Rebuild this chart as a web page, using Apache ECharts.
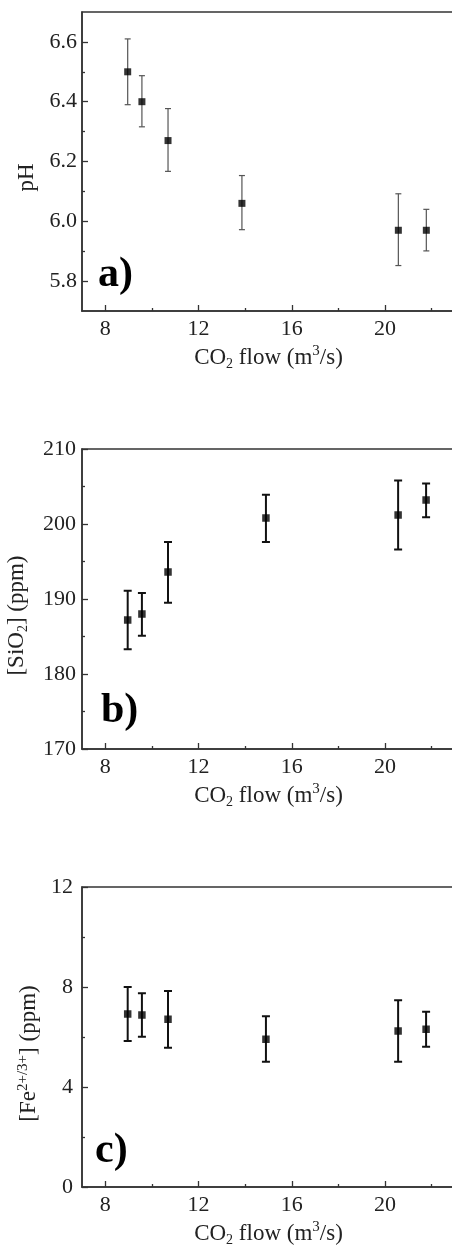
<!DOCTYPE html>
<html>
<head>
<meta charset="utf-8">
<script src="https://cdn.jsdelivr.net/npm/echarts@6/dist/echarts.min.js"></script>
<style>
html,body{margin:0;padding:0;background:#fff;}
#chart{width:452px;height:1245px;}
</style>
</head>
<body>
<div id="chart"></div>
<script>
// ---- data ----
const flowA = [8.96, 9.57, 10.69, 13.86, 20.57, 21.77];
const pH = [6.50, 6.40, 6.27, 6.06, 5.97, 5.97];
const pHLow = [6.39, 6.316, 6.167, 5.972, 5.852, 5.901];
const pHHigh = [6.61, 6.487, 6.377, 6.153, 6.092, 6.04];

const flowBC = [8.96, 9.57, 10.69, 14.89, 20.56, 21.76];
const sio2 = [187.2, 188.0, 193.6, 200.8, 201.2, 203.2];
const sio2Low = [183.3, 185.1, 189.5, 197.6, 196.6, 200.9];
const sio2High = [191.1, 190.8, 197.6, 203.9, 205.8, 205.4];

const fe = [6.92, 6.88, 6.71, 5.91, 6.24, 6.31];
const feLow = [5.84, 6.01, 5.57, 5.01, 5.01, 5.61];
const feHigh = [8.0, 7.75, 7.84, 6.83, 7.47, 7.01];

// ticks
const xMajor = [8, 12, 16, 20];
const xMinor = [10, 14, 18, 22];
const pHMajor = [5.8, 6.0, 6.2, 6.4, 6.6];
const pHMinor = [5.9, 6.1, 6.3, 6.5];
const sioMajor = [170, 180, 190, 200, 210];
const sioMinor = [175, 185, 195, 205];
const feMajor = [0, 4, 8, 12];
const feMinor = [2, 6, 10];
const panelLabels = ['a)', 'b)', 'c)'];

// ---- chart ----
const FONT = 'Liberation Serif';
const AX = '#333';
const TXT = '#222';
const TICKFS = 22;
const NA = 3; // axes per dimension per grid
const chart = echarts.init(document.getElementById('chart'), null, {renderer: 'canvas'});

const grids = [
  {left: 82, top: 12, width: 373, height: 299},
  {left: 82, top: 449, width: 373, height: 300},
  {left: 82, top: 887, width: 373, height: 300}
];

const richName = {
  a: {fontSize: 23, fontFamily: FONT, color: TXT, lineHeight: 27},
  s: {fontSize: 14, fontFamily: FONT, color: TXT, verticalAlign: 'bottom', lineHeight: 14},
  p: {fontSize: 15, fontFamily: FONT, color: TXT, verticalAlign: 'top', lineHeight: 15}
};
const xName = '{a|CO}{s|2}{a| flow (m}{p|3}{a|/s)}';

function tickAxis(base, vals, len) {
  return Object.assign({}, base, {
    axisLine: {show: false, onZero: false},
    axisTick: {show: true, inside: true, length: len, customValues: vals, lineStyle: {color: AX, width: 1.3}},
    axisLabel: {show: false},
    splitLine: {show: false}
  });
}

function xAxes(i) {
  const base = {gridIndex: i, type: 'value', min: 7, max: 23, position: 'bottom', offset: 0};
  return [Object.assign({}, base, {
    axisLine: {show: true, onZero: false, lineStyle: {color: AX, width: 1.5}},
    axisTick: {show: false},
    axisLabel: {customValues: xMajor, margin: 7, fontSize: TICKFS, color: TXT, fontFamily: FONT},
    splitLine: {show: false},
    name: xName, nameLocation: 'middle', nameGap: 33,
    nameTextStyle: {rich: richName}
  }), tickAxis(base, xMajor, 6), tickAxis(base, xMinor, 3)];
}

function yAxes(i, min, max, major, minor, name, gap, fmt, margin, shift) {
  const base = {gridIndex: i, type: 'value', min: min, max: max, position: 'left', offset: 0};
  return [Object.assign({}, base, {
    axisLine: {show: true, onZero: false, lineStyle: {color: AX, width: 1.5}},
    axisTick: {show: false},
    axisLabel: {customValues: major, margin: margin, fontSize: TICKFS, color: TXT, fontFamily: FONT, formatter: fmt},
    splitLine: {show: false},
    name: name, nameLocation: 'middle', nameGap: gap, nameRotate: 90,
    nameTextStyle: {rich: richName, padding: [0, shift, 0, 0]}
  }), tickAxis(base, major, 6), tickAxis(base, minor, 3)];
}

function errSeries(i, xs, lo, hi, color, lw, capHalf) {
  return {
    type: 'custom', xAxisIndex: NA * i, yAxisIndex: NA * i,
    data: xs.map((x, k) => [x, lo[k], hi[k]]),
    encode: {x: 0, y: [1, 2]},
    z: 2,
    silent: true,
    renderItem: function (params, api) {
      const x = api.value(0);
      const a = api.coord([x, api.value(1)]);
      const b = api.coord([x, api.value(2)]);
      const st = {stroke: color, lineWidth: lw, fill: null};
      return {
        type: 'group',
        children: [
          {type: 'line', shape: {x1: a[0], y1: a[1], x2: b[0], y2: b[1]}, style: st},
          {type: 'line', shape: {x1: a[0] - capHalf, y1: a[1], x2: a[0] + capHalf, y2: a[1]}, style: st},
          {type: 'line', shape: {x1: b[0] - capHalf, y1: b[1], x2: b[0] + capHalf, y2: b[1]}, style: st}
        ]
      };
    }
  };
}

function pointSeries(i, xs, ys, size) {
  return {
    type: 'scatter', xAxisIndex: NA * i, yAxisIndex: NA * i,
    data: xs.map((x, k) => [x, ys[k]]),
    symbol: 'rect', symbolSize: size,
    itemStyle: {color: '#000'},
    z: 5,
    silent: true
  };
}

const option = {
  backgroundColor: '#fff',
  animation: false,
  grid: grids.map(g => Object.assign({show: true, borderColor: AX, borderWidth: 1.5, backgroundColor: 'transparent', outerBoundsMode: 'none', containLabel: false}, g)),
  xAxis: [].concat(xAxes(0), xAxes(1), xAxes(2)),
  yAxis: [].concat(
    yAxes(0, 5.7, 6.7, pHMajor, pHMinor, '{a|pH}', 40, v => v.toFixed(1), 5, 32),
    yAxes(1, 170, 210, sioMajor, sioMinor, '{a|[SiO}{s|2}{a|] (ppm)}', 52, v => String(v), 6, 33),
    yAxes(2, 0, 12, feMajor, feMinor, '{a|[Fe}{p|2+/3+}{a|] (ppm)}', 38, v => String(v), 9, 33)
  ),
  series: [
    errSeries(0, flowA, pHLow, pHHigh, '#555', 1.2, 3),
    pointSeries(0, flowA, pH, 7),
    errSeries(1, flowBC, sio2Low, sio2High, '#111', 2, 4),
    pointSeries(1, flowBC, sio2, 7.5),
    errSeries(2, flowBC, feLow, feHigh, '#111', 2, 4),
    pointSeries(2, flowBC, fe, 7.5)
  ],
  graphic: [
    {type: 'text', x: 98, y: 275, style: {text: panelLabels[0], fontSize: 42, fontWeight: 'bold', fontFamily: FONT, fill: '#000', verticalAlign: 'middle'}},
    {type: 'text', x: 101, y: 711, style: {text: panelLabels[1], fontSize: 42, fontWeight: 'bold', fontFamily: FONT, fill: '#000', verticalAlign: 'middle'}},
    {type: 'text', x: 95, y: 1151, style: {text: panelLabels[2], fontSize: 42, fontWeight: 'bold', fontFamily: FONT, fill: '#000', verticalAlign: 'middle'}}
  ]
};
chart.setOption(option);
</script>
</body>
</html>
